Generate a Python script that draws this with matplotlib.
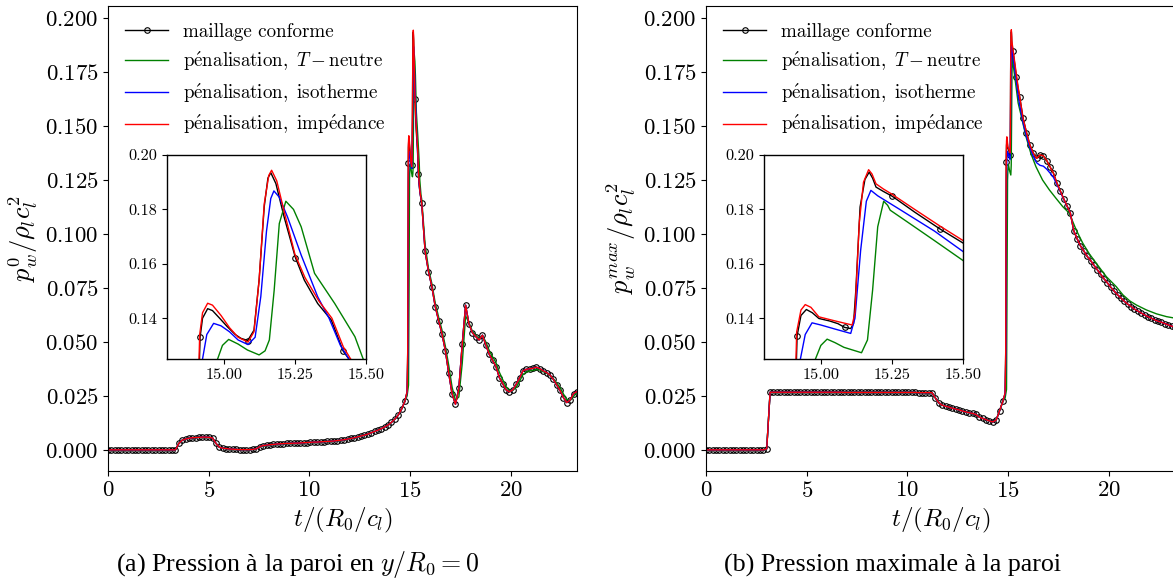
# Pression pariétale : maillage conforme vs pénalisation (2 panneaux + zooms)

# Imports
import numpy as np
import matplotlib
matplotlib.use("Agg")
import matplotlib.pyplot as plt
from matplotlib.lines import Line2D

plt.rcParams["font.family"] = "serif"
plt.rcParams["font.serif"] = ["cmr10"]
plt.rcParams["mathtext.fontset"] = "cm"
plt.rcParams["axes.formatter.use_mathtext"] = True

# Pas de sortie du maillage conforme (un marqueur par échantillon)
DT = 0.1676

# ---------------- (a) p_w^0 ----------------
pw0_conforme = [
    0.0, 0.0, 0.0, 0.0, 0.0, 0.0, 0.0, 0.0, 0.0, 0.0,
    0.0, 0.0, 0.0, 0.0, 0.0, 0.0, 0.0, 0.0, 0.0, 0.0, 0.0,
    0.0030, 0.0045, 0.0050, 0.0054, 0.0056, 0.0057, 0.0058, 0.0059, 0.0059, 0.0058,
    0.0055, 0.0030, 0.0012, 0.0008, 0.0006, 0.0004, 0.0003, 0.0002, 0.0001, 0.0001,
    0.0001, 0.0001, 0.0002, 0.0005, 0.0015, 0.0020, 0.0022, 0.0024, 0.0025, 0.0027,
    0.0028, 0.0029, 0.0030, 0.0030, 0.0031, 0.0031, 0.0032, 0.0033, 0.0034, 0.0035,
    0.0036, 0.0036, 0.0037, 0.0038, 0.0039, 0.0040, 0.0041, 0.0043, 0.0045, 0.0047,
    0.0050, 0.0053, 0.0056, 0.0060, 0.0064, 0.0068, 0.0073, 0.0079, 0.0085, 0.0091,
    0.0098, 0.0106, 0.0115, 0.0127, 0.0142, 0.0160, 0.0188, 0.0225, 0.1330, 0.1318,
    0.1623, 0.1280,
    0.1142, 0.0920, 0.0826, 0.0756, 0.0664, 0.0599, 0.0537, 0.0460, 0.0355, 0.0259,
    0.0211, 0.0285, 0.0489, 0.0670, 0.0583, 0.0543, 0.0525, 0.0509, 0.0531, 0.0486,
    0.0443, 0.0415, 0.0386, 0.0335, 0.0307, 0.0278, 0.0269, 0.0278, 0.0304, 0.0333,
    0.0366, 0.0373, 0.0376, 0.0378, 0.0383, 0.0376, 0.0366, 0.0358, 0.0347, 0.0327,
    0.0301, 0.0275, 0.0242, 0.0219, 0.0231, 0.0261, 0.0270,
]

# détail du pic (fenêtre du zoom)
t_pic_a_conforme = [14.86, 14.89, 14.905, 14.925, 14.943, 14.96, 14.985, 15.012, 15.04, 15.06,
                    15.106, 15.124, 15.142, 15.155, 15.165, 15.183, 15.212, 15.283, 15.33, 15.378,
                    15.45, 15.50]
pw0_pic_conforme = [0.0270, 0.0450, 0.0900, 0.1400, 0.1435, 0.1428, 0.1400, 0.1369, 0.1340, 0.1326,
                    0.1356, 0.1540, 0.1810, 0.1915, 0.1935, 0.1895, 0.1772, 0.1540, 0.1454, 0.1393,
                    0.1235, 0.1190]

t_pic_a_tneutre = [14.86, 14.93, 14.96, 14.978, 14.995, 15.017, 15.05, 15.083, 15.124, 15.145,
                   15.16, 15.177, 15.195, 15.218, 15.245, 15.272, 15.319, 15.39, 15.461, 15.49, 15.55]
pw0_pic_tneutre = [0.0250, 0.0300, 0.0800, 0.1250, 0.1300, 0.1322, 0.1305, 0.1283, 0.1265, 0.1280,
                   0.1320, 0.1503, 0.1748, 0.1830, 0.1800, 0.1736, 0.1565, 0.1454, 0.1332, 0.1250, 0.1180]
t_queue_a_tneutre = [15.587, 15.754, 15.922, 16.09, 16.257, 16.425, 16.592, 16.76, 16.93, 17.095,
                     17.263, 17.43, 17.598, 17.766, 17.933, 18.1, 18.27, 18.436, 18.6, 18.77,
                     18.94, 19.1, 19.27, 19.44, 19.61, 19.78, 19.94, 20.11, 20.28, 20.45,
                     20.61, 20.78, 20.95, 21.12, 21.29, 21.45, 21.62, 21.79, 21.96, 22.12,
                     22.29, 22.46, 22.63, 22.79, 22.96, 23.13, 23.3]
pw0_queue_tneutre = [0.1160, 0.0950, 0.0840, 0.0770, 0.0680, 0.0615, 0.0555, 0.0480, 0.0390, 0.0290,
                     0.0230, 0.0245, 0.0400, 0.0620, 0.0590, 0.0550, 0.0530, 0.0515, 0.0530, 0.0500,
                     0.0460, 0.0432, 0.0405, 0.0360, 0.0325, 0.0292, 0.0275, 0.0275, 0.0290, 0.0318,
                     0.0348, 0.0360, 0.0366, 0.0368, 0.0372, 0.0370, 0.0362, 0.0355, 0.0345, 0.0330,
                     0.0310, 0.0288, 0.0258, 0.0234, 0.0228, 0.0248, 0.0268]

t_pic_a_isotherme = [14.86, 14.90, 14.915, 14.925, 14.94, 14.964, 14.99, 15.02, 15.05, 15.085,
                     15.11, 15.13, 15.15, 15.165, 15.176, 15.195, 15.224, 15.272, 15.33, 15.37,
                     15.41, 15.446, 15.50]
pw0_pic_isotherme = [0.0265, 0.0450, 0.0900, 0.1250, 0.1340, 0.1381, 0.1372, 0.1350, 0.1320, 0.1303,
                     0.1330, 0.1480, 0.1720, 0.1840, 0.1868, 0.1845, 0.1772, 0.1632, 0.1479, 0.1400,
                     0.1300, 0.1240, 0.1192]

t_pic_a_impedance = [14.86, 14.89, 14.905, 14.915, 14.925, 14.943, 14.96, 14.99, 15.02, 15.05,
                     15.085, 15.106, 15.124, 15.142, 15.158, 15.168, 15.186, 15.215, 15.25, 15.285,
                     15.335, 15.38, 15.42, 15.446, 15.50]
pw0_pic_impedance = [0.0270, 0.0460, 0.0950, 0.1340, 0.1420, 0.1455, 0.1448, 0.1410, 0.1365, 0.1330,
                     0.1312, 0.1350, 0.1540, 0.1820, 0.1925, 0.1944, 0.1905, 0.1780, 0.1635, 0.1550,
                     0.1462, 0.1400, 0.1295, 0.1250, 0.1195]

# ---------------- (b) p_w^max ----------------
pmax_conforme = [
    0.0, 0.0, 0.0, 0.0, 0.0, 0.0, 0.0, 0.0, 0.0, 0.0,
    0.0, 0.0, 0.0, 0.0, 0.0, 0.0, 0.0, 0.0, 0.0005,
    0.0267, 0.0267, 0.0267, 0.0267, 0.0267, 0.0267, 0.0267, 0.0267, 0.0267, 0.0267,
    0.0267, 0.0267, 0.0267, 0.0267, 0.0267, 0.0267, 0.0267, 0.0267, 0.0267, 0.0267,
    0.0267, 0.0267, 0.0266, 0.0266, 0.0266, 0.0266, 0.0266, 0.0266, 0.0266, 0.0266,
    0.0266, 0.0266, 0.0266, 0.0266, 0.0266, 0.0266, 0.0266, 0.0266, 0.0266, 0.0266,
    0.0266, 0.0266, 0.0266, 0.0266, 0.0265, 0.0265, 0.0265, 0.0265, 0.0265,
    0.0240, 0.0218, 0.0207, 0.0202, 0.0198, 0.0193, 0.0189, 0.0185, 0.0180, 0.0176,
    0.0172, 0.0169, 0.0164, 0.0152, 0.0146, 0.0140, 0.0134, 0.0129, 0.0138, 0.0180,
    0.0225, 0.1335, 0.1366, 0.1848, 0.1728,
    0.1633, 0.1535, 0.1470, 0.1413, 0.1375, 0.1350, 0.1366, 0.1362, 0.1340, 0.1310,
    0.1281, 0.1237, 0.1200, 0.1164, 0.1131, 0.1097, 0.1015, 0.0978, 0.0945, 0.0921,
    0.0896, 0.0877, 0.0855, 0.0834, 0.0813, 0.0792, 0.0773, 0.0753, 0.0735, 0.0718,
    0.0703, 0.0688, 0.0675, 0.0664, 0.0652, 0.0643, 0.0634, 0.0625, 0.0617, 0.0610,
    0.0602, 0.0596, 0.0591, 0.0585, 0.0579, 0.0573, 0.0568,
]

t_pic_b_conforme = [14.86, 14.89, 14.905, 14.93, 14.949, 14.97, 14.993, 15.03, 15.06, 15.105,
                    15.115, 15.123, 15.138, 15.155, 15.17, 15.182, 15.194, 15.22, 15.33, 15.507]
pmax_pic_conforme = [0.0260, 0.0450, 0.0900, 0.1410, 0.1432, 0.1420, 0.1399, 0.1390, 0.1380, 0.1362,
                     0.1380, 0.1503, 0.1809, 0.1910, 0.1937, 0.1915, 0.1882, 0.1866, 0.1790, 0.1672]

t_pic_b_tneutre = [14.86, 14.93, 14.96, 14.981, 15.0, 15.022, 15.05, 15.081, 15.143, 15.164,
                   15.182, 15.2, 15.221, 15.235, 15.244, 15.3, 15.4, 15.507]
pmax_pic_tneutre = [0.0240, 0.0280, 0.0800, 0.1250, 0.1300, 0.1323, 0.1310, 0.1293, 0.1273, 0.1320,
                    0.1503, 0.1736, 0.1830, 0.1815, 0.1797, 0.1757, 0.1685, 0.1607]
t_queue_b_tneutre = [15.65, 15.9, 16.14, 16.39, 16.72, 17.06, 17.39, 17.72, 18.05, 18.39,
                     18.72, 19.05, 19.39, 19.89, 20.38, 20.71, 21.05, 21.38, 21.88, 22.38,
                     22.88, 23.3]
pmax_queue_tneutre = [0.1551, 0.1450, 0.1373, 0.1312, 0.1250, 0.1204, 0.1165, 0.1127, 0.1096, 0.1019,
                      0.0957, 0.0907, 0.0864, 0.0802, 0.0756, 0.0718, 0.0690, 0.0671, 0.0648, 0.0630,
                      0.0617, 0.0610]

t_pic_b_isotherme = [14.86, 14.90, 14.915, 14.928, 14.945, 14.969, 15.0, 15.05, 15.105, 15.12,
                     15.14, 15.16, 15.176, 15.2, 15.282, 15.4, 15.507]
pmax_pic_isotherme = [0.0260, 0.0450, 0.0900, 0.1250, 0.1340, 0.1383, 0.1375, 0.1360, 0.1344, 0.1400,
                      0.1650, 0.1830, 0.1870, 0.1850, 0.1797, 0.1720, 0.1640]
t_queue_b_isotherme = [15.587, 15.754, 15.922, 16.09, 16.257, 16.425, 16.592, 16.76, 16.93, 17.095,
                       17.263, 17.43, 17.598, 17.766, 17.933, 18.1]
pmax_queue_isotherme = [0.1595, 0.1515, 0.1450, 0.1400, 0.1360, 0.1330, 0.1318, 0.1314, 0.1300, 0.1282,
                        0.1262, 0.1230, 0.1197, 0.1162, 0.1130, 0.1097]

t_pic_b_impedance = [14.86, 14.89, 14.905, 14.915, 14.93, 14.945, 14.965, 14.993, 15.05, 15.11,
                     15.12, 15.135, 15.15, 15.168, 15.18, 15.194, 15.22, 15.25, 15.33, 15.42, 15.507]
pmax_pic_impedance = [0.0265, 0.0460, 0.0950, 0.1350, 0.1430, 0.1450, 0.1440, 0.1405, 0.1390, 0.1375,
                      0.1420, 0.1750, 0.1900, 0.1946, 0.1930, 0.1894, 0.1875, 0.1856, 0.1800, 0.1738, 0.1681]

labels = ["maillage conforme",
          r"$\mathrm{p\acute{e}nalisation,}\ T-\mathrm{neutre}$",
          r"$\mathrm{p\acute{e}nalisation,\ isotherme}$",
          r"$\mathrm{p\acute{e}nalisation,\ imp\acute{e}dance}$"]
couleurs = ["k", "green", "blue", "red"]


# Hors de la plage fournie, la courbe suit la référence (maillage conforme)
def assemble(t_ref, p_ref, t_own, p_own):
    t_ref = np.asarray(t_ref, float)
    p_ref = np.asarray(p_ref, float)
    t_own = np.asarray(t_own, float)
    p_own = np.asarray(p_own, float)
    hors = (t_ref < t_own.min()) | (t_ref > t_own.max())
    t = np.concatenate([t_ref[hors], t_own])
    p = np.concatenate([p_ref[hors], p_own])
    o = np.argsort(t, kind="stable")
    return t[o], p[o]


def series(p_conf, t_pic_conf, p_pic_conf, autres):
    t_conf = np.arange(len(p_conf)) * DT
    t_noir = np.concatenate([t_conf, t_pic_conf])
    p_noir = np.concatenate([p_conf, p_pic_conf])
    mark = np.concatenate([np.ones(len(p_conf), bool), np.zeros(len(p_pic_conf), bool)])
    o = np.argsort(t_noir, kind="stable")
    out = [(t_noir[o], p_noir[o], mark[o])]
    for t_own, p_own in autres:
        t, p = assemble(t_conf, p_conf, t_own, p_own)
        out.append((t, p, None))
    return out


def draw(axes, courbes):
    for (t, p, mark), c in zip(courbes, couleurs):
        if mark is not None:
            axes.plot(t, p, color=c, lw=1.0, marker="o", ms=4, mfc="none", mew=0.8,
                      markevery=list(mark))
        else:
            axes.plot(t, p, color=c, lw=1.0)


courbes_a = series(pw0_conforme, t_pic_a_conforme, pw0_pic_conforme, [
    (t_pic_a_tneutre + t_queue_a_tneutre, pw0_pic_tneutre + pw0_queue_tneutre),
    (t_pic_a_isotherme, pw0_pic_isotherme),
    (t_pic_a_impedance, pw0_pic_impedance),
])
courbes_b = series(pmax_conforme, t_pic_b_conforme, pmax_pic_conforme, [
    (t_pic_b_tneutre + t_queue_b_tneutre, pmax_pic_tneutre + pmax_queue_tneutre),
    (t_pic_b_isotherme + t_queue_b_isotherme, pmax_pic_isotherme + pmax_queue_isotherme),
    (t_pic_b_impedance, pmax_pic_impedance),
])

W, H = 1173, 583
fig = plt.figure(figsize=(W / 100, H / 100), dpi=100)

ax_a = fig.add_axes([108 / W, 1 - 471 / H, 469 / W, 465 / H])
ax_b = fig.add_axes([706 / W, 1 - 471 / H, 469 / W, 465 / H])
in_a = fig.add_axes([167 / W, 1 - 359 / H, 199 / W, 204 / H])
in_b = fig.add_axes([764 / W, 1 - 359 / H, 199 / W, 204 / H])

proxies = [Line2D([], [], color="k", lw=1.0, marker="o", ms=4, mfc="none", mew=0.8)]
proxies += [Line2D([], [], color=c, lw=1.0) for c in couleurs[1:]]

for ax, courbes, ylab in [(ax_a, courbes_a, r"$p_w^0/\rho_l c_l^2$"),
                          (ax_b, courbes_b, r"$p_w^{max}/\rho_l c_l^2$")]:
    draw(ax, courbes)
    ax.set_xlim(0, 23.3)
    ax.set_ylim(-0.0098, 0.2056)
    ax.set_xticks([0, 5, 10, 15, 20])
    ax.set_yticks(np.arange(0, 0.201, 0.025))
    ax.tick_params(labelsize=16.4)
    ax.set_xlabel(r"$t/(R_0/c_l)$", fontsize=18)
    ax.set_ylabel(ylab, fontsize=19)
    ax.legend(proxies, labels, loc="upper left", frameon=False, fontsize=13.7,
              handlelength=2.25, labelspacing=0.45)

for ins, courbes in [(in_a, courbes_a), (in_b, courbes_b)]:
    draw(ins, courbes)
    ins.set_xlim(14.8, 15.5)
    ins.set_ylim(0.125, 0.20)
    ins.set_xticks([15.0, 15.25, 15.5])
    ins.set_xticklabels(["15.00", "15.25", "15.50"])
    ins.set_yticks([0.14, 0.16, 0.18, 0.20])
    ins.set_yticklabels(["0.14", "0.16", "0.18", "0.20"])
    ins.tick_params(labelsize=11.7)
    for s in ins.spines.values():
        s.set_linewidth(1.0)

fig.text(298 / W, 1 - 565 / H, r"(a) Pression à la paroi en $y/R_0 = 0$",
         family="Liberation Serif", size=18.7, ha="center", va="center")
fig.text(893 / W, 1 - 565 / H, "(b) Pression maximale à la paroi",
         family="Liberation Serif", size=18.7, ha="center", va="center")

fig.savefig("out.png", dpi=100)
